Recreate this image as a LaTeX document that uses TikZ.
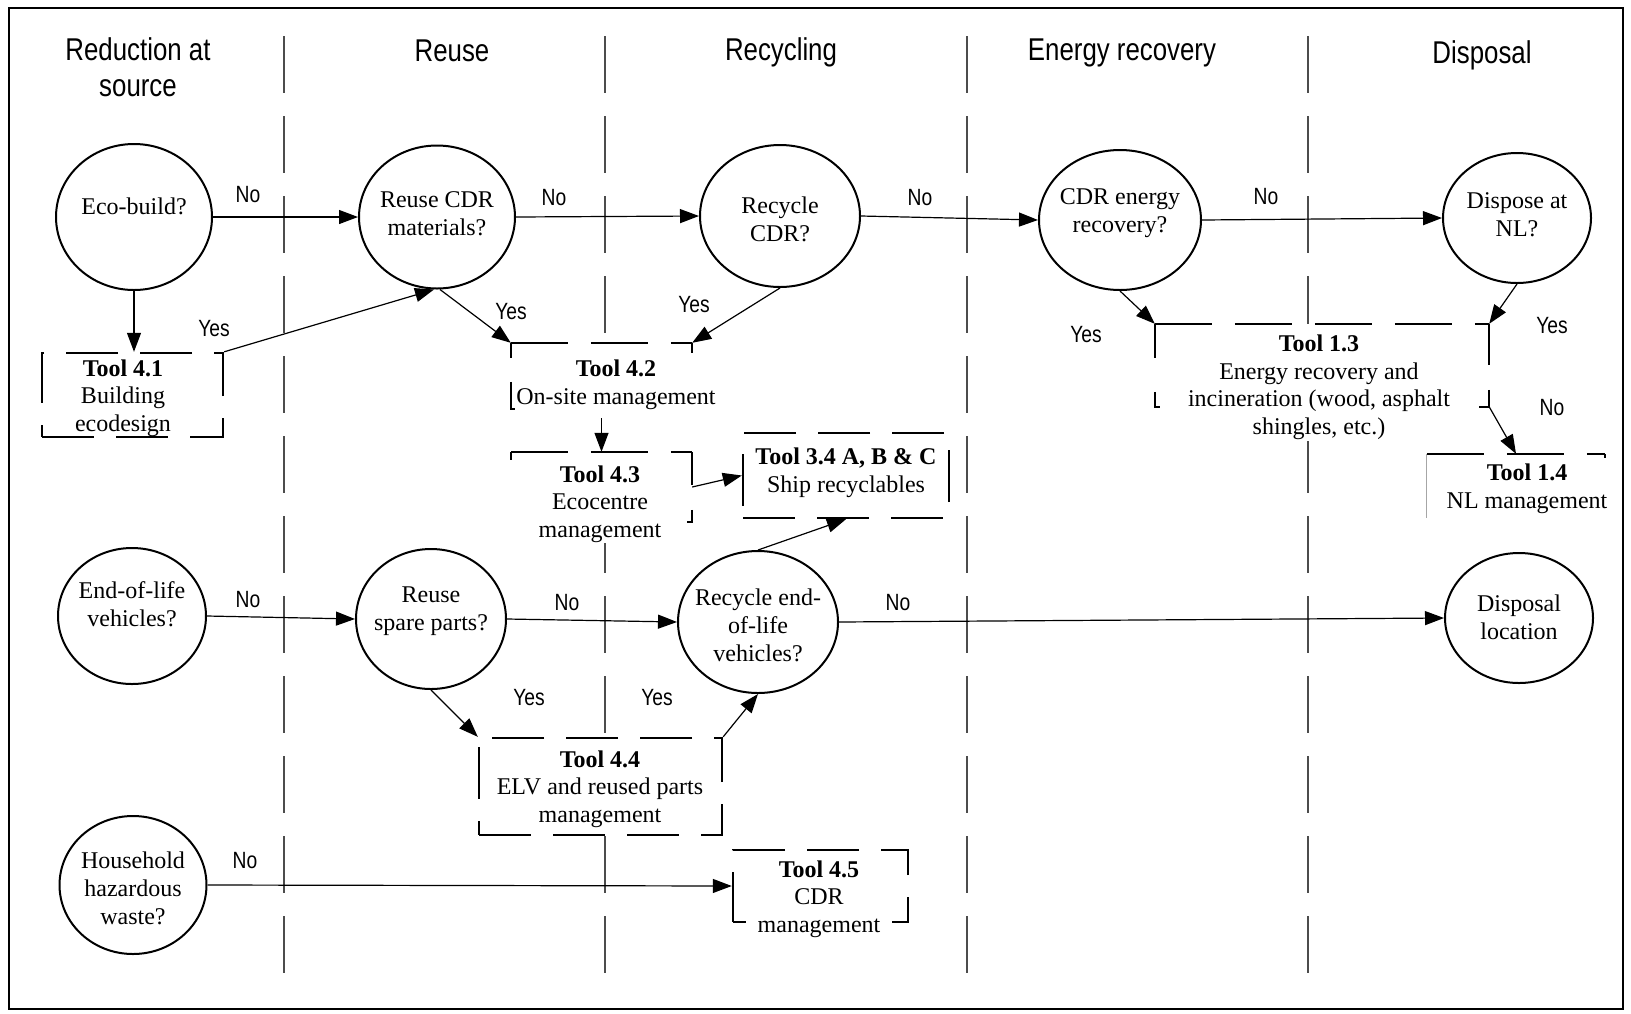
\documentclass[tikz,border=0pt]{standalone}
\usepackage{fontspec}
\setmainfont{Liberation Serif}
\newfontfamily\hdr[FakeStretch=0.82]{Liberation Sans}
\usetikzlibrary{arrows.meta,shapes.geometric,calc}
\begin{document}
\begin{tikzpicture}[x=1pt,y=-1pt,
  circ/.style={draw, ellipse, line width=2pt, inner sep=0pt},
  ctext/.style={align=center, font=\fontsize{24}{28}\selectfont, inner sep=0pt},
  ttext/.style={align=center, font=\fontsize{24}{27.5}\selectfont, inner sep=1pt, fill=white},
  hdrtext/.style={font=\hdr\fontsize{31.5}{36}\selectfont, align=center, inner sep=0pt},
  lbl/.style={anchor=base, font=\hdr\fontsize{23.5}{28}\selectfont, inner sep=0pt},
  lane/.style={line width=1.5pt, black!70, dash pattern=on 57pt off 23pt},
  tbox/.style={draw, fill=white, line width=2.4pt, dash pattern=on 52pt off 22pt, inner sep=0pt},
  tfill/.style={fill=white, inner sep=0pt},
  tedge/.style={line width=2.4pt},
  tdash/.style={line width=2.4pt, dash pattern=on 57pt off 23pt},
  conn/.style={line width=1.2pt, -{Triangle[length=19pt,width=14pt]}},
]
\useasboundingbox (0,0) rectangle (1631,1013);
\draw[line width=2pt] (9,8) rectangle (1623,1009);

% lane dividers
\draw[lane] (284,36) -- (284,975);
\draw[lane] (605,36) -- (605,975);
\draw[lane] (967,36) -- (967,975);
\draw[lane] (1308,36) -- (1308,975);

% headers
\node[hdrtext] (h1) at (138,67) {Reduction at\\[0pt]source};
\node[hdrtext, anchor=base] (h2) at (452,61) {Reuse};
\node[hdrtext, anchor=base] (h3) at (781,60) {Recycling};
\node[hdrtext, anchor=base] (h4) at (1122,60) {Energy recovery};
\node[hdrtext, anchor=base] (h5) at (1482,63) {Disposal};

% decision circles
\node[circ, minimum width=156pt, minimum height=146pt] (eco) at (134,217) {};
\node[ctext] (ecot) at (134,206) {Eco-build?};
\node[circ, minimum width=156pt, minimum height=143pt] (reuse) at (437,217) {};
\node[ctext] (reuset) at (437,213.5) {Reuse CDR\\materials?};
\node[circ, minimum width=160pt, minimum height=142pt] (rec) at (780,216) {};
\node[ctext] (rect) at (780,219) {Recycle\\CDR?};
\node[circ, minimum width=162pt, minimum height=140pt] (ener) at (1120,220) {};
\node[ctext] (enert) at (1120,213) {CDR energy\\recovery?};
\node[circ, minimum width=148pt, minimum height=130pt] (dnl) at (1517,218) {};
\node[ctext] (dnlt) at (1517,215) {Dispose at\\NL?};
\node[circ, minimum width=148pt, minimum height=136pt] (elv) at (132,616) {};
\node[ctext] (elvt) at (132,604) {End-of-life\\vehicles?};
\node[circ, minimum width=150pt, minimum height=140pt] (rsp) at (431,619) {};
\node[ctext] (rspt) at (431,611) {Reuse\\spare parts?};
\node[circ, minimum width=160pt, minimum height=142pt] (rev) at (758,622) {};
\node[ctext] (revt) at (758,625) {Recycle end-\\of-life\\vehicles?};
\node[circ, minimum width=148pt, minimum height=130pt] (dloc) at (1519,618) {};
\node[ctext] (dloct) at (1519,617) {Disposal\\location};
\node[circ, minimum width=147pt, minimum height=138pt] (hhw) at (133,885) {};
\node[ctext] (hhwt) at (133,888) {Household\\hazardous\\waste?};

% tool boxes
\node[tbox, minimum width=181pt, minimum height=84pt] (t41) at (132.5,395) {};
\node[ttext, fill=none] (t41t) at (123,398) {\textbf{Tool 4.1}\\Building\\ecodesign};

\fill[white] (595,410) rectangle (615,456);
\node[tfill, minimum width=181pt, minimum height=75pt] (t42) at (601.5,380.5) {};
\draw[tdash] (t42.north west) -- (t42.north east);
\draw[tedge] (t42.north west) -- ++(0,15);
\draw[tedge] (t42.north east) -- ++(0,10);
\draw[tedge] ($(t42.north west)+(0,39)$) -- ++(0,27) -- ++(5,0);
\node[ttext] (t42t) at (616,385) {\textbf{Tool 4.2}\\On-site management};

\node[tfill, minimum width=181pt, minimum height=70pt] (t43) at (601.5,487) {};
\draw[tdash] (t43.north west) -- (t43.north east);
\draw[tedge] (t43.north west) -- ++(0,8);
\draw[tedge] (t43.north east) -- ++(0,33);
\draw[tedge] ($(t43.north east)+(0,58)$) -- ++(0,12) -- ++(-5,0);
\node[ttext] (t43t) at (600,504) {\textbf{Tool 4.3}\\Ecocentre\\management};

\node[tbox, minimum width=206pt, minimum height=85pt] (t34) at (846,475.5) {};
\node[ttext, fill=none] (t34t) at (846,473) {\textbf{Tool 3.4 A, B \& C}\\Ship recyclables};

\node[tbox, minimum width=243pt, minimum height=97pt] (t44) at (600.5,786.5) {};
\node[ttext, fill=none] (t44t) at (600,789) {\textbf{Tool 4.4}\\ELV and reused parts\\management};

\node[tbox, minimum width=175pt, minimum height=72pt] (t45) at (820.5,886) {};
\node[ttext, inner xsep=12pt] (t45t) at (819,899) {\textbf{Tool 4.5}\\CDR\\management};

\node[tfill, minimum width=334pt, minimum height=116pt] (t13) at (1322,382) {};
\draw[tdash] (t13.north west) -- (t13.north east);
\draw[tedge] (t13.north west) -- ++(0,34);
\draw[tedge] ($(t13.north west)+(0,68)$) -- ++(0,15) -- ++(5,0);
\draw[tedge] (t13.north east) -- ++(0,41);
\draw[tedge] ($(t13.north east)+(0,66)$) -- ++(0,17) -- ++(-10,0);
\coordinate (t13out) at ($(t13.north east)+(0,83)$);
\node[ttext] (t13t) at (1319,387.5) {\textbf{Tool 1.3}\\Energy recovery and\\incineration (wood, asphalt\\shingles, etc.)};

\node[tfill, minimum width=178pt, minimum height=64pt] (t14) at (1516,486) {};
\draw[tdash] (t14.north west) -- (t14.north east);
\draw[line width=0.8pt, black!35] (t14.north west) -- (t14.south west);
\draw[tedge] (t14.north east) -- ++(0,4);
\node[ttext] (t14t) at (1527,489) {\textbf{Tool 1.4}\\NL management};

% connectors
\draw[conn] (eco.east) -- (reuse.west);
\draw[conn] (reuse.east) -- (rec.west);
\draw[conn] (rec.east) -- (ener.west);
\draw[conn] (ener.east) -- (dnl.west);
\draw[conn] (eco.south) -- (eco.south |- t41.north);
\draw[conn] (t41.north east) -- ([xshift=-3pt]reuse.south);
\draw[conn] ([xshift=3pt]reuse.south) -- (t42.north west);
\draw[conn] (rec.south) -- (t42.north east);
\draw[conn] (ener.south) -- (t13.north west);
\draw[conn] (dnl.south) -- (t13.north east);
\draw[conn] (t13out) -- (t14.north);
\draw[conn] (t42.south) -- (t43.north);
\draw[conn] (t43.east) -- (t34.west);
\draw[conn] (rev.north) -- (t34.south);
\draw[conn] (elv.east) -- (rsp.west);
\draw[conn] (rsp.east) -- (rev.west);
\draw[conn] (rev.east) -- (dloc.west);
\draw[conn] (rsp.south) -- (t44.north west);
\draw[conn] (t44.north east) -- (rev.south);
\draw[conn] (hhw.east) -- (t45.west);

% labels
\node[lbl] (l1) at (248,202) {No};
\node[lbl] (l2) at (554,205) {No};
\node[lbl] (l3) at (920,205) {No};
\node[lbl] (l4) at (1266,204) {No};
\node[lbl] (l5) at (214,336) {Yes};
\node[lbl] (l6) at (511,319) {Yes};
\node[lbl] (l7) at (694,312) {Yes};
\node[lbl] (l8) at (1086,342) {Yes};
\node[lbl] (l9) at (1552,333) {Yes};
\node[lbl] (l10) at (1552,415) {No};
\node[lbl] (l11) at (248,607) {No};
\node[lbl] (l12) at (567,610) {No};
\node[lbl] (l13) at (898,610) {No};
\node[lbl] (l14) at (529,705) {Yes};
\node[lbl] (l15) at (657,705) {Yes};
\node[lbl] (l16) at (245,868) {No};
\end{tikzpicture}
\end{document}
